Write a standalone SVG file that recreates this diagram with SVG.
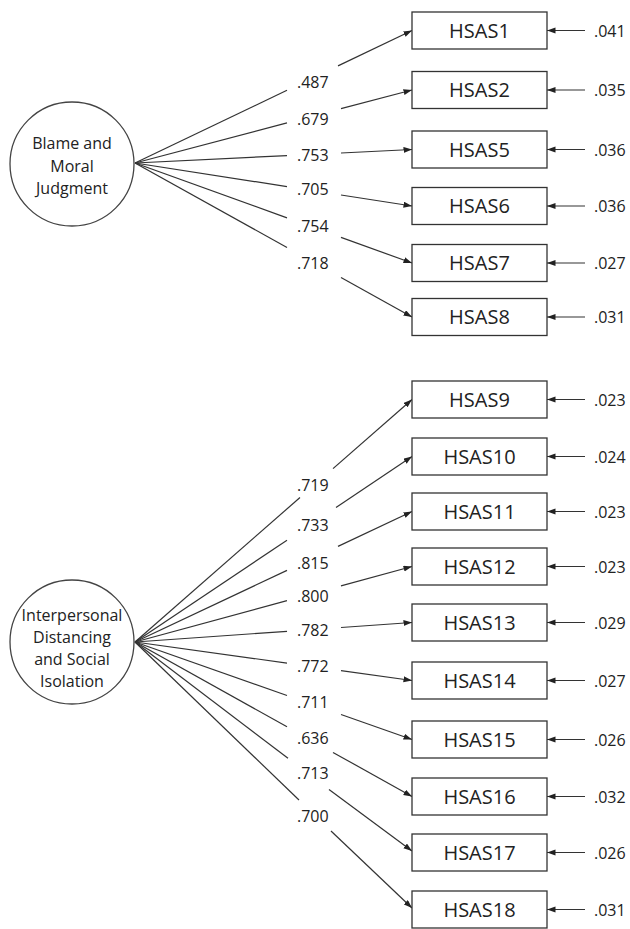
<svg xmlns="http://www.w3.org/2000/svg" width="630" height="929" viewBox="0 0 630 929">
<defs>
<marker id="ah" markerUnits="userSpaceOnUse" markerWidth="9" markerHeight="7" refX="8.5" refY="3" orient="auto">
<path d="M0,0 L8.5,3 L0,6 z" fill="#222"/>
</marker>
<style>
.bg{fill:#fff}
.lat{fill:#fff;stroke:#444;stroke-width:1.3}
.box{fill:#fff;stroke:#333;stroke-width:1.3}
.ln{stroke:#333;stroke-width:1.2;fill:none}
.arr{stroke:#333;stroke-width:1.2;fill:none;marker-end:url(#ah)}
.lt{font-family:"Open Sans","DejaVu Sans",sans-serif;font-size:16px;fill:#222;text-anchor:middle}
.bt{font-family:"Open Sans","DejaVu Sans",sans-serif;font-size:20px;fill:#222;text-anchor:middle}
.nt{font-family:"Open Sans","DejaVu Sans",sans-serif;font-size:16px;fill:#222}
</style>
</defs>
<rect class="bg" width="630" height="929"/>

<g id="connectors">
<!-- top factor loadings -->
<line class="ln" x1="135" y1="163" x2="287" y2="90.3"/><line class="arr" x1="338" y1="65.9" x2="412" y2="30.5"/>
<line class="ln" x1="135" y1="163" x2="287" y2="122.9"/><line class="arr" x1="341" y1="108.7" x2="412" y2="90"/>
<line class="ln" x1="135" y1="163" x2="287" y2="155.6"/><line class="arr" x1="341" y1="153" x2="412" y2="149.5"/>
<line class="ln" x1="135" y1="163" x2="287" y2="186.6"/><line class="arr" x1="341" y1="195" x2="412" y2="206"/>
<line class="ln" x1="135" y1="163" x2="287" y2="217.9"/><line class="arr" x1="341" y1="237.4" x2="412" y2="263"/>
<line class="ln" x1="135" y1="163" x2="287" y2="247.5"/><line class="arr" x1="341" y1="277.5" x2="412" y2="317"/>
<!-- bottom factor loadings -->
<line class="ln" x1="135" y1="642" x2="300" y2="497.5"/><line class="arr" x1="333" y1="468.6" x2="412" y2="399.5"/>
<line class="ln" x1="135" y1="642" x2="287" y2="540.2"/><line class="arr" x1="336" y1="507.4" x2="412" y2="456.5"/>
<line class="ln" x1="135" y1="642" x2="287" y2="570.4"/><line class="arr" x1="338" y1="546.4" x2="412" y2="511.5"/>
<line class="ln" x1="135" y1="642" x2="287" y2="600.6"/><line class="arr" x1="341" y1="585.8" x2="412" y2="566.5"/>
<line class="ln" x1="135" y1="642" x2="287" y2="631.3"/><line class="arr" x1="341" y1="627.5" x2="412" y2="622.5"/>
<line class="ln" x1="135" y1="642" x2="287" y2="663.1"/><line class="arr" x1="341" y1="670.6" x2="412" y2="680.5"/>
<line class="ln" x1="135" y1="642" x2="287" y2="695.5"/><line class="arr" x1="341" y1="714.5" x2="412" y2="739.5"/>
<line class="ln" x1="135" y1="642" x2="287" y2="726.8"/><line class="arr" x1="333" y1="752.4" x2="412" y2="796.5"/>
<line class="ln" x1="135" y1="642" x2="288" y2="758.3"/><line class="arr" x1="329" y1="789.4" x2="412" y2="851"/>
<line class="ln" x1="135" y1="642" x2="299" y2="800"/><line class="arr" x1="331" y1="831" x2="412" y2="908"/>
<!-- error arrows -->
<line class="arr" x1="585" y1="30.5" x2="547" y2="30.5"/>
<line class="arr" x1="585" y1="90" x2="547" y2="90"/>
<line class="arr" x1="585" y1="149.5" x2="547" y2="149.5"/>
<line class="arr" x1="585" y1="206" x2="547" y2="206"/>
<line class="arr" x1="585" y1="263" x2="547" y2="263"/>
<line class="arr" x1="585" y1="317" x2="547" y2="317"/>
<line class="arr" x1="585" y1="399.5" x2="547" y2="399.5"/>
<line class="arr" x1="585" y1="456.5" x2="547" y2="456.5"/>
<line class="arr" x1="585" y1="511.5" x2="547" y2="511.5"/>
<line class="arr" x1="585" y1="566.5" x2="547" y2="566.5"/>
<line class="arr" x1="585" y1="622.5" x2="547" y2="622.5"/>
<line class="arr" x1="585" y1="680.5" x2="547" y2="680.5"/>
<line class="arr" x1="585" y1="739.5" x2="547" y2="739.5"/>
<line class="arr" x1="585" y1="796.5" x2="547" y2="796.5"/>
<line class="arr" x1="585" y1="852.5" x2="547" y2="852.5"/>
<line class="arr" x1="585" y1="909.5" x2="547" y2="909.5"/>
</g>

<g id="loadings">
<text class="nt" x="297" y="88">.487</text>
<text class="nt" x="297" y="125">.679</text>
<text class="nt" x="297" y="161">.753</text>
<text class="nt" x="297" y="195">.705</text>
<text class="nt" x="297" y="232">.754</text>
<text class="nt" x="297" y="269">.718</text>
<text class="nt" x="297" y="491">.719</text>
<text class="nt" x="297" y="531">.733</text>
<text class="nt" x="297" y="569">.815</text>
<text class="nt" x="297" y="602">.800</text>
<text class="nt" x="297" y="636">.782</text>
<text class="nt" x="297" y="672">.772</text>
<text class="nt" x="297" y="708">.711</text>
<text class="nt" x="297" y="744">.636</text>
<text class="nt" x="297" y="779">.713</text>
<text class="nt" x="297" y="822">.700</text>
</g>

<g id="errors">
<text class="nt" x="594" y="36.5">.041</text>
<text class="nt" x="594" y="96">.035</text>
<text class="nt" x="594" y="155.5">.036</text>
<text class="nt" x="594" y="212">.036</text>
<text class="nt" x="594" y="269">.027</text>
<text class="nt" x="594" y="323">.031</text>
<text class="nt" x="594" y="405.5">.023</text>
<text class="nt" x="594" y="462.5">.024</text>
<text class="nt" x="594" y="517.5">.023</text>
<text class="nt" x="594" y="572.5">.023</text>
<text class="nt" x="594" y="628.5">.029</text>
<text class="nt" x="594" y="686.5">.027</text>
<text class="nt" x="594" y="745.5">.026</text>
<text class="nt" x="594" y="802.5">.032</text>
<text class="nt" x="594" y="858.5">.026</text>
<text class="nt" x="594" y="915.5">.031</text>
</g>

<g id="factor-blame">
<circle class="lat" cx="72" cy="164" r="62"/>
<text class="lt" x="72" y="149">Blame and</text>
<text class="lt" x="72" y="172">Moral</text>
<text class="lt" x="72" y="194">Judgment</text>
</g>

<g id="factor-distancing">
<circle class="lat" cx="72" cy="642" r="62"/>
<text class="lt" x="72" y="621">Interpersonal</text>
<text class="lt" x="72" y="643">Distancing</text>
<text class="lt" x="72" y="665">and Social</text>
<text class="lt" x="72" y="687">Isolation</text>
</g>

<g id="HSAS1"><rect class="box" x="412" y="12" width="135" height="37"/><text class="bt" x="479.5" y="37.5">HSAS1</text></g>
<g id="HSAS2"><rect class="box" x="412" y="71.5" width="135" height="37"/><text class="bt" x="479.5" y="97">HSAS2</text></g>
<g id="HSAS5"><rect class="box" x="412" y="131" width="135" height="37"/><text class="bt" x="479.5" y="156.5">HSAS5</text></g>
<g id="HSAS6"><rect class="box" x="412" y="187.5" width="135" height="37"/><text class="bt" x="479.5" y="213">HSAS6</text></g>
<g id="HSAS7"><rect class="box" x="412" y="244.5" width="135" height="37"/><text class="bt" x="479.5" y="270">HSAS7</text></g>
<g id="HSAS8"><rect class="box" x="412" y="298.5" width="135" height="37"/><text class="bt" x="479.5" y="324">HSAS8</text></g>
<g id="HSAS9"><rect class="box" x="412" y="381" width="135" height="37"/><text class="bt" x="479.5" y="406.5">HSAS9</text></g>
<g id="HSAS10"><rect class="box" x="412" y="438" width="135" height="37"/><text class="bt" x="479.5" y="463.5">HSAS10</text></g>
<g id="HSAS11"><rect class="box" x="412" y="493" width="135" height="37"/><text class="bt" x="479.5" y="518.5">HSAS11</text></g>
<g id="HSAS12"><rect class="box" x="412" y="548" width="135" height="37"/><text class="bt" x="479.5" y="573.5">HSAS12</text></g>
<g id="HSAS13"><rect class="box" x="412" y="604" width="135" height="37"/><text class="bt" x="479.5" y="629.5">HSAS13</text></g>
<g id="HSAS14"><rect class="box" x="412" y="662" width="135" height="37"/><text class="bt" x="479.5" y="687.5">HSAS14</text></g>
<g id="HSAS15"><rect class="box" x="412" y="721" width="135" height="37"/><text class="bt" x="479.5" y="746.5">HSAS15</text></g>
<g id="HSAS16"><rect class="box" x="412" y="778" width="135" height="37"/><text class="bt" x="479.5" y="803.5">HSAS16</text></g>
<g id="HSAS17"><rect class="box" x="412" y="834" width="135" height="37"/><text class="bt" x="479.5" y="859.5">HSAS17</text></g>
<g id="HSAS18"><rect class="box" x="412" y="891" width="135" height="37"/><text class="bt" x="479.5" y="916.5">HSAS18</text></g>
</svg>
